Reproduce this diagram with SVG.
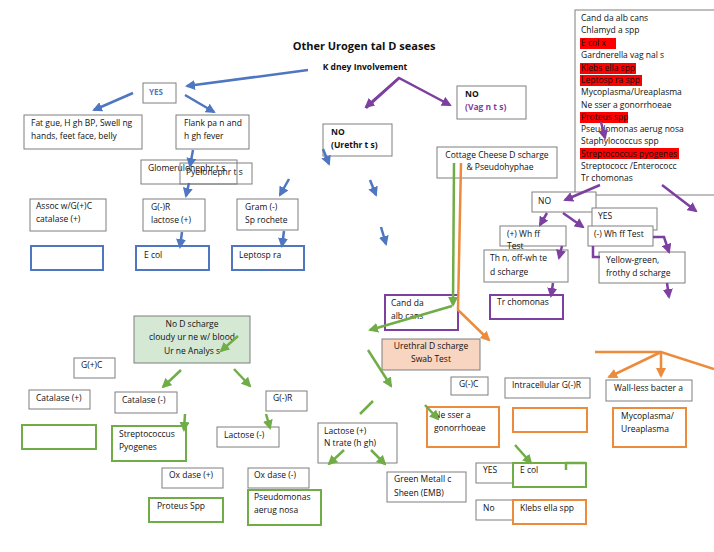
<svg xmlns="http://www.w3.org/2000/svg" width="714" height="552" viewBox="0 0 714 552">
<defs>
<marker id="ab" viewBox="0 0 10 10" refX="8" refY="5" markerWidth="4" markerHeight="4" orient="auto"><path d="M0,0L10,5L0,10z" fill="#4f76c0"/></marker>
<marker id="ap" viewBox="0 0 10 10" refX="8" refY="5" markerWidth="4" markerHeight="4" orient="auto"><path d="M0,0L10,5L0,10z" fill="#7d3fa0"/></marker>
<marker id="ag" viewBox="0 0 10 10" refX="8" refY="5" markerWidth="4" markerHeight="4" orient="auto"><path d="M0,0L10,5L0,10z" fill="#70ad47"/></marker>
<marker id="ao" viewBox="0 0 10 10" refX="8" refY="5" markerWidth="4" markerHeight="4" orient="auto"><path d="M0,0L10,5L0,10z" fill="#ed8b3d"/></marker>
</defs>
<style>
text{font-family:"Open Sans","Noto Sans",sans-serif;font-size:8.5px;fill:#111}
.b{font-weight:bold}
rect{fill:#fff;stroke:#7f7f7f;stroke-width:1}
.bl{stroke:#4f76c0;stroke-width:2}
.pu{stroke:#7d3fa0;stroke-width:2}
.gr{stroke:#70ad47;stroke-width:2}
.or{stroke:#ed8b3d;stroke-width:2}
.lb path,.lb line{fill:none;stroke:#4f76c0;stroke-width:2.5}
.lp path,.lp line{fill:none;stroke:#7d3fa0;stroke-width:2.5}
.lg path,.lg line{fill:none;stroke:#70ad47;stroke-width:2.5}
.lo path,.lo line{fill:none;stroke:#ed8b3d;stroke-width:2.5}
</style>
<rect x="0" y="0" width="714" height="552" style="fill:#fff;stroke:none"/>
<text class="b" x="364" y="50" text-anchor="middle" style="font-size:11px">Other Urogen tal D seases</text>
<text class="b" x="365" y="70" text-anchor="middle" style="font-size:8.5px">K dney Involvement</text>

<g id="n-list"><rect x="575" y="10" width="142" height="185"/>
<rect x="580" y="38" width="36" height="11" style="fill:#f00;stroke:none"/>
<rect x="580" y="63" width="56" height="11" style="fill:#f00;stroke:none"/>
<rect x="580" y="75" width="62" height="11" style="fill:#f00;stroke:none"/>
<rect x="580" y="112" width="48" height="11" style="fill:#f00;stroke:none"/>
<rect x="580" y="148" width="99" height="11" style="fill:#f00;stroke:none"/>
<text x="581" y="21">Cand da alb cans</text><text x="581" y="33">Chlamyd a spp</text><text x="581" y="46">E  col  x</text><text x="581" y="58">Gardnerella vag nal s</text><text x="581" y="71">Klebs ella spp</text><text x="581" y="83">Leptosp ra spp</text><text x="581" y="95">Mycoplasma/Ureaplasma</text><text x="581" y="108">Ne sser a gonorrhoeae</text><text x="581" y="120">Proteus spp</text><text x="581" y="132">Pseudomonas aerug nosa</text><text x="581" y="144">Staphylococcus spp</text><text x="581" y="157">Streptococcus pyogenes</text><text x="581" y="169">Streptococc /Enterococc</text><text x="581" y="181">Tr chomonas</text></g>

<g id="n-yes"><rect x="143" y="83" width="33" height="20"/><text x="149" y="95" class="b" style="fill:#4f76c0;font-size:8px">YES</text></g>
<g id="n-fat"><rect x="24" y="115" width="118" height="34"/><text x="31" y="126">Fat gue, H gh BP, Swell ng</text><text x="31" y="139">hands, feet face, belly</text></g>
<g id="n-flank"><rect x="176" y="115" width="73" height="34"/><text x="184" y="126">Flank pa n and</text><text x="184" y="139">h gh fever</text></g>
<g id="n-glom"><rect x="141" y="160" width="96" height="24"/><text x="148" y="171">Glomerulonephr t s</text></g>
<g id="n-pyel"><rect x="180" y="163" width="72" height="21" style="fill:none"/><text x="186" y="175">Pyelonephr t s</text></g>
<g id="n-assoc"><rect x="30" y="199" width="76" height="32"/><text x="36" y="209">Assoc w/G(+)C</text><text x="36" y="222">catalase (+)</text></g>
<g id="n-gr"><rect x="143" y="199" width="62" height="32"/><text x="151" y="210">G(-)R</text><text x="151" y="223">lactose (+)</text></g>
<g id="n-gram"><rect x="237" y="199" width="61" height="31"/><text x="245" y="210">Gram (-)</text><text x="245" y="223">Sp rochete</text></g>
<g id="n-bl1"><rect class="bl" x="31" y="246" width="72" height="24"/></g>
<g id="n-ecol1"><rect class="bl" x="136" y="246" width="73" height="24"/><text x="144" y="258">E col</text></g>
<g id="n-lepto"><rect class="bl" x="232" y="246" width="72" height="24"/><text x="239" y="258">Leptosp ra</text></g>
<g id="n-nour"><rect x="323" y="124" width="69" height="32"/><text x="331" y="135" class="b">NO</text><text x="331" y="148" class="b">(Urethr t s)</text></g>
<g id="n-novag"><rect x="457" y="86" width="69" height="33"/><text x="465" y="97" class="b">NO</text><text x="465" y="110" class="b" style="fill:#7d3fa0">(Vag n t s)</text></g>
<g id="n-cottage"><rect x="437" y="147" width="120" height="31"/><text x="497" y="158" text-anchor="middle">Cottage Cheese D scharge</text><text x="500" y="170" text-anchor="middle">&amp; Pseudohyphae</text></g>
<g id="n-no2"><rect x="532" y="192" width="64" height="20"/><text x="538" y="204">NO</text></g>
<g id="n-yes2"><rect x="592" y="208" width="65" height="22"/><text x="598" y="219">YES</text></g>
<g id="n-wpos"><rect x="500" y="226" width="66" height="20"/><text x="507" y="237">(+) Wh ff</text><text x="507" y="249">Test</text></g>
<g id="n-wneg"><rect x="588" y="226" width="65" height="20"/><text x="594" y="237">(-) Wh ff Test</text></g>
<g id="n-thin"><rect x="484" y="250" width="84" height="32"/><text x="490" y="261">Th n, off-wh te</text><text x="490" y="275">d scharge</text></g>
<g id="n-yg"><rect x="599" y="252" width="86" height="31"/><text x="606" y="263">Yellow-green,</text><text x="606" y="276">frothy d scharge</text></g>
<g id="n-trich"><rect class="pu" x="490" y="295" width="73" height="24"/><text x="497" y="305">Tr chomonas</text></g>
<g id="n-cand"><rect class="pu" x="385" y="295" width="73" height="35"/><text x="391" y="306">Cand da</text><text x="391" y="319">alb cans</text></g>
<g id="n-swab"><rect x="382" y="339" width="98" height="31" style="fill:#f8d5c0"/><text x="431" y="349" text-anchor="middle">Urethral D scharge</text><text x="431" y="362" text-anchor="middle">Swab Test</text></g>
<g id="n-nod"><rect x="134" y="316" width="116" height="47" style="fill:#d5e8d4"/><text x="192" y="327" text-anchor="middle">No D scharge</text><text x="192" y="340" text-anchor="middle">cloudy ur ne w/ blood</text><text x="192" y="354" text-anchor="middle">Ur ne Analys s</text></g>
<g id="n-gpc"><rect x="74" y="358" width="41" height="20"/><text x="81" y="368">G(+)C</text></g>
<g id="n-catp"><rect x="29" y="390" width="61" height="19"/><text x="36" y="401">Catalase (+)</text></g>
<g id="n-catn"><rect x="115" y="392" width="62" height="21"/><text x="122" y="403">Catalase (-)</text></g>
<g id="n-gnr"><rect x="266" y="391" width="41" height="20"/><text x="273" y="401">G(-)R</text></g>
<g id="n-gbox"><rect class="gr" x="22" y="425" width="74" height="24"/></g>
<g id="n-strep"><rect class="gr" x="112" y="426" width="74" height="35"/><text x="119" y="437">Streptococcus</text><text x="119" y="450">Pyogenes</text></g>
<g id="n-lacn"><rect x="217" y="427" width="62" height="20"/><text x="224" y="438">Lactose (-)</text></g>
<g id="n-lacp"><rect x="318" y="423" width="79" height="40"/><text x="324" y="434">Lactose (+)</text><text x="324" y="446">N trate (h gh)</text></g>
<g id="n-oxp"><rect x="162" y="468" width="61" height="20"/><text x="169" y="478">Ox dase (+)</text></g>
<g id="n-oxn"><rect x="248" y="468" width="61" height="20"/><text x="254" y="478">Ox dase (-)</text></g>
<g id="n-prot"><rect class="gr" x="149" y="498" width="74" height="24"/><text x="157" y="509">Proteus Spp</text></g>
<g id="n-pseu"><rect class="gr" x="248" y="490" width="73" height="35"/><text x="254" y="500">Pseudomonas</text><text x="254" y="513">aerug nosa</text></g>
<g id="n-emb"><rect x="387" y="472" width="79" height="30"/><text x="394" y="482">Green Metall c</text><text x="394" y="496">Sheen (EMB)</text></g>
<g id="n-yes3"><rect x="476" y="463" width="40" height="20"/><text x="483" y="473">YES</text></g>
<g id="n-ecol2"><rect class="gr" x="513" y="463" width="73" height="24"/><text x="520" y="473">E col</text></g>
<g id="n-no3"><rect x="476" y="500" width="40" height="20"/><text x="483" y="511">No</text></g>
<g id="n-kleb"><rect class="or" x="513" y="500" width="73" height="24"/><text x="520" y="511">Klebs ella spp</text></g>
<g id="n-gnc"><rect x="451" y="377" width="37" height="18"/><text x="459" y="387">G(-)C</text></g>
<g id="n-intra"><rect x="505" y="378" width="85" height="20"/><text x="512" y="388">Intracellular G(-)R</text></g>
<g id="n-wall"><rect x="606" y="380" width="86" height="21"/><text x="614" y="391">Wall-less bacter a</text></g>
<g id="n-neis"><rect class="or" x="427" y="407" width="72" height="40"/><text x="434" y="418">Ne sser a</text><text x="434" y="431">gonorrhoeae</text></g>
<g id="n-obox"><rect class="or" x="513" y="408" width="74" height="24"/></g>
<g id="n-myco"><rect class="or" x="613" y="408" width="73" height="39"/><text x="621" y="419">Mycoplasma/</text><text x="621" y="432">Ureaplasma</text></g>

<g id="connectors">
<g class="lb">
<line x1="308" y1="70" x2="187" y2="86" marker-end="url(#ab)"/>
<line x1="133" y1="93" x2="94" y2="110" marker-end="url(#ab)"/>
<line x1="185" y1="95" x2="214" y2="112" marker-end="url(#ab)"/>
<line x1="193" y1="150" x2="190" y2="166" marker-end="url(#ab)"/>
<line x1="189" y1="183" x2="186" y2="196" marker-end="url(#ab)"/>
<line x1="289" y1="179" x2="280" y2="195" marker-end="url(#ab)"/>
<line x1="182" y1="232" x2="180" y2="247" marker-end="url(#ab)"/>
<line x1="284" y1="231" x2="282" y2="246" marker-end="url(#ab)"/>
<line x1="323" y1="149" x2="329" y2="164" marker-end="url(#ab)"/>
<line x1="370" y1="180" x2="376" y2="195" marker-end="url(#ab)"/>
<line x1="381" y1="227" x2="386" y2="244" marker-end="url(#ab)"/>
</g>
<g class="lp">
<path d="M366,108L399,78L450,105" marker-end="url(#ap)"/>
<line x1="399" y1="78" x2="366" y2="107" marker-end="url(#ap)"/>
<line x1="600" y1="185" x2="565" y2="200" marker-end="url(#ap)"/>
<line x1="662" y1="185" x2="696" y2="211" marker-end="url(#ap)"/>
<line x1="547" y1="213" x2="540" y2="225" marker-end="url(#ap)"/>
<line x1="563" y1="213" x2="583" y2="227" marker-end="url(#ap)"/>
<line x1="562" y1="246" x2="559" y2="258" marker-end="url(#ap)"/>
<path d="M653,237L664,237L669,252" marker-end="url(#ap)"/>
<path d="M593,246L593,257L600,257"/>
<line x1="667" y1="283" x2="669" y2="297" marker-end="url(#ap)"/>
<line x1="553" y1="283" x2="551" y2="296" marker-end="url(#ap)"/>
<line x1="601" y1="122" x2="605" y2="138" marker-end="url(#ap)"/>
</g>
<g class="lg">
<line x1="454" y1="163" x2="453" y2="305" marker-end="url(#ag)"/>
<line x1="452" y1="306" x2="370" y2="330" marker-end="url(#ag)"/>
<line x1="368" y1="350" x2="391" y2="386" marker-end="url(#ag)"/>
<line x1="373" y1="401" x2="360" y2="414"/>
<line x1="238" y1="336" x2="221" y2="351" marker-end="url(#ag)"/>
<line x1="181" y1="370" x2="163" y2="387" marker-end="url(#ag)"/>
<line x1="234" y1="369" x2="250" y2="386" marker-end="url(#ag)"/>
<line x1="185" y1="414" x2="184" y2="430" marker-end="url(#ag)"/>
<line x1="266" y1="414" x2="270" y2="428" marker-end="url(#ag)"/>
<line x1="344" y1="450" x2="329" y2="464" marker-end="url(#ag)"/>
<line x1="371" y1="450" x2="385" y2="464" marker-end="url(#ag)"/>
<line x1="425" y1="405" x2="438" y2="419" marker-end="url(#ag)"/>
<line x1="515" y1="445" x2="531" y2="463" marker-end="url(#ag)"/>
<path d="M566,470L566,463L586,463"/>
</g>
<g class="lo">
<path d="M461,163L458,310L489,340" marker-end="url(#ao)"/>
<path d="M595,352L661,352L714,369"/>
<line x1="661" y1="352" x2="609" y2="377" marker-end="url(#ao)"/>
<line x1="661" y1="352" x2="661" y2="376" marker-end="url(#ao)"/>
</g>
</g>
</svg>
